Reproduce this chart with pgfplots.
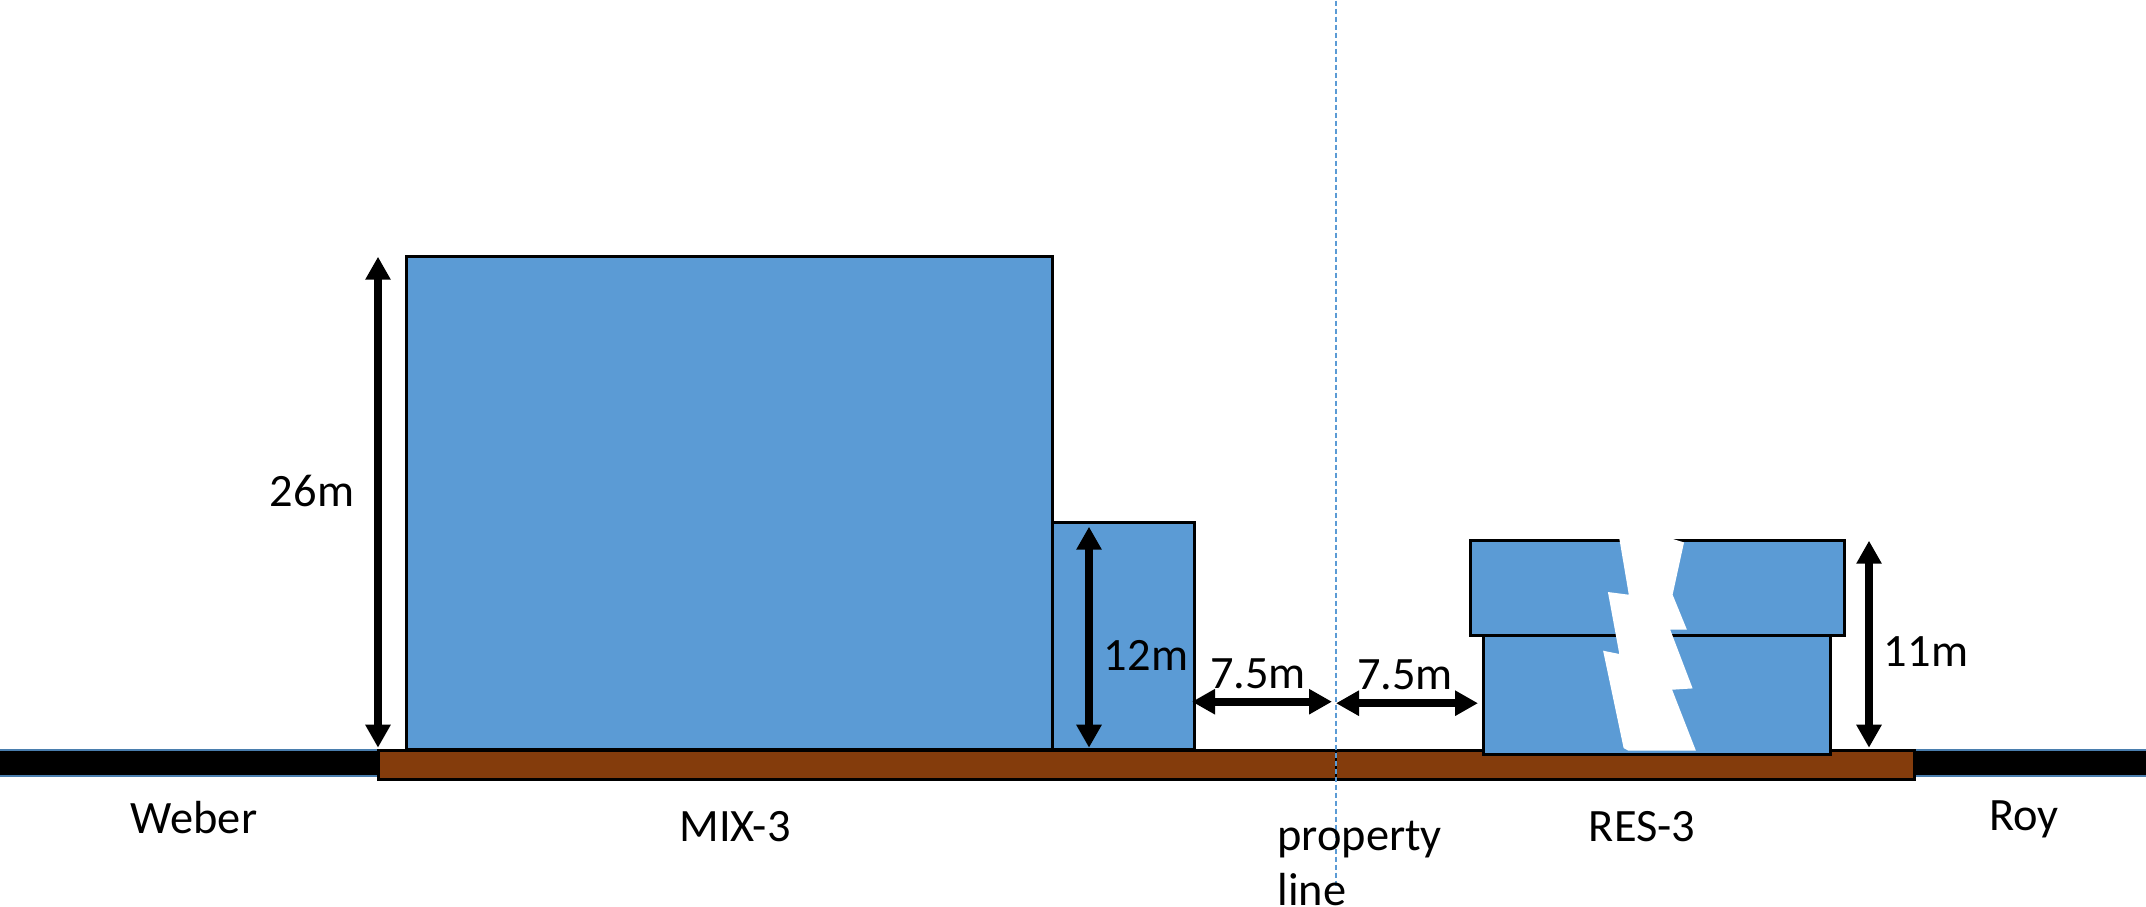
\documentclass[border=0pt]{standalone}
\usepackage{fontspec}
\setmainfont{Carlito}
\usepackage{pgfplots}
\pgfplotsset{compat=1.18}
\usetikzlibrary{arrows.meta}
\definecolor{boxblue}{HTML}{5B9BD5}
\definecolor{lotbrown}{HTML}{843C0C}
\definecolor{edgeblue}{HTML}{4A7EAE}
\tikzset{
  dim/.style={black,line width=4pt,{Triangle[width=12pt,length=11.5pt]}-{Triangle[width=12pt,length=11.5pt]}},
  lab/.style={font=\fontsize{23.2}{28}\selectfont,inner sep=0pt},
}
\begin{document}
\begin{tikzpicture}
\begin{axis}[
    scale only axis,width=1073pt,height=457pt,
    xmin=0,xmax=2146,ymin=-4,ymax=910,y dir=reverse,
    hide axis,clip=true,clip mode=individual,
  ]
  % lots and neighbours
  \addplot[fill=black,draw=edgeblue,line width=1pt] coordinates {(-4,750) (379,750) (379,776) (-4,776)} --cycle;
  \addplot[fill=black,draw=edgeblue,line width=1pt] coordinates {(1913,750) (2150,750) (2150,776) (1913,776)} --cycle;
  \addplot[fill=lotbrown,draw=black,line width=1.5pt] coordinates {(378,751) (1914,751) (1914,780) (378,780)} --cycle;
  % buildings
  \addplot[fill=boxblue,draw=black,line width=1.5pt] coordinates {(406.5,257) (1052,257) (1052,750) (406.5,750)} --cycle;
  \addplot[fill=boxblue,draw=black,line width=1.5pt] coordinates {(1052,523) (1194,523) (1194,750) (1052,750)} --cycle;
  \addplot[fill=boxblue,draw=black,line width=1.5pt] coordinates {(1483,636) (1830,636) (1830,755) (1483,755)} --cycle;
  \addplot[fill=boxblue,draw=black,line width=1.5pt] coordinates {(1470,540.5) (1844,540.5) (1844,636) (1470,636)} --cycle;
  % break mark
  \addplot[fill=white,draw=none] coordinates {(1619,537) (1665.5,537) (1684,542.7) (1672.6,595) (1686.9,630) (1670.2,630) (1692.6,688.7) (1672.1,690) (1695.9,751) (1628.4,751) (1623.6,748.3) (1603.1,651) (1619.3,654.3) (1607.9,592.3) (1628.8,595)} --cycle;
  % property line
  \addplot[black,line width=1pt] coordinates {(1336,752) (1336,779)};
  \addplot[boxblue,line width=0.7pt,dash pattern=on 2.5pt off 1.5pt] coordinates {(1336,1) (1336,887)};
  % dimensions
  \addplot[dim] coordinates {(378,257) (378,748)};
  \addplot[dim] coordinates {(1089,527) (1089,748)};
  \addplot[dim] coordinates {(1869,541) (1869,748)};
  \addplot[dim] coordinates {(1192,702) (1332,702)};
  \addplot[dim] coordinates {(1336,703.5) (1478,703.5)};
  \node[lab] at (axis cs:312,491) {26m};
  \node[lab] at (axis cs:1146,656) {12m};
  \node[lab] at (axis cs:1258,674) {7.5m};
  \node[lab] at (axis cs:1405,675) {7.5m};
  \node[lab] at (axis cs:1926,652) {11m};
  \node[lab] at (axis cs:194,818) {Weber};
  \node[lab] at (axis cs:735,827) {MIX-3};
  \node[lab] at (axis cs:1642,827) {RES-3};
  \node[lab] at (axis cs:2024,820) {Roy};
  \node[lab,anchor=base west] at (axis cs:1277,851) {property};
  \node[lab,anchor=base west] at (axis cs:1277,906) {line};
\end{axis}
\end{tikzpicture}
\end{document}
